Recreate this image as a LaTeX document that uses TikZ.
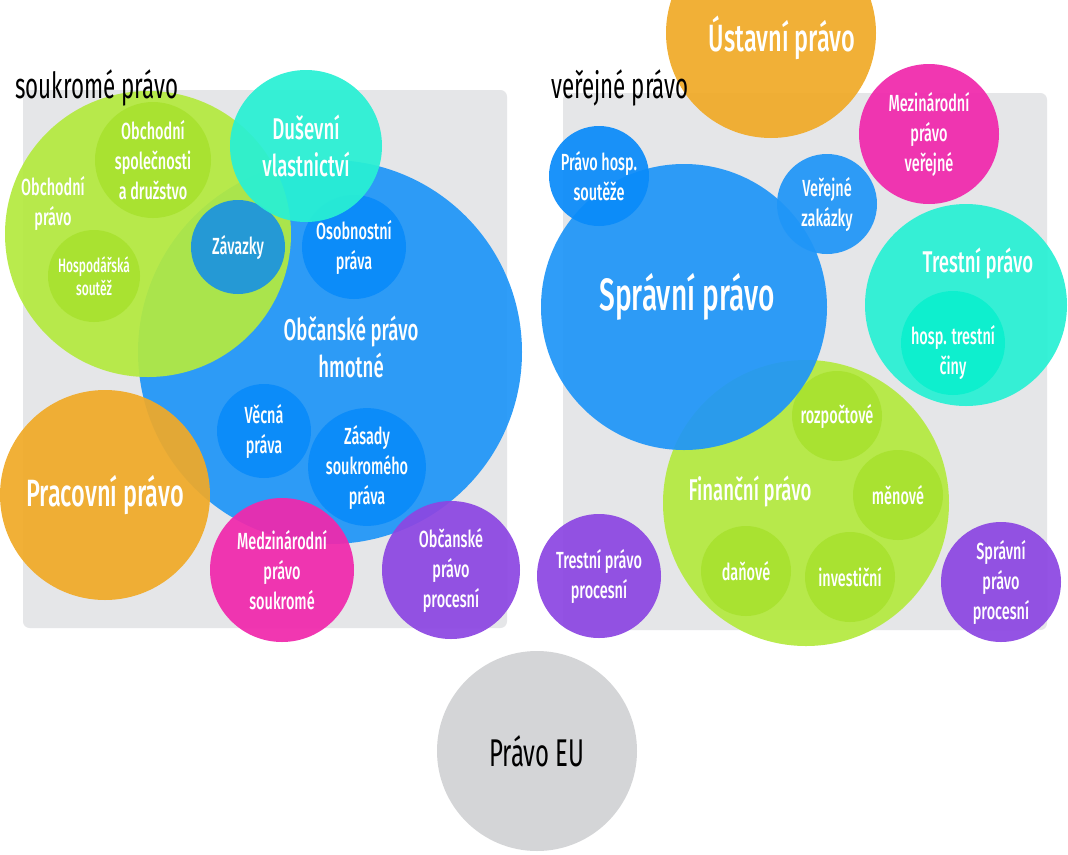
\documentclass[tikz,border=0pt]{standalone}
\usepackage{fontspec}
\setmainfont{Fira Sans}[UprightFont=* Medium, FakeStretch=0.62]
\newfontfamily\plainfont{Fira Sans}[FakeStretch=0.62]
\usetikzlibrary{positioning}
\definecolor{lime}{HTML}{B4EA40}
\definecolor{limein}{HTML}{A8E230}
\definecolor{sky}{HTML}{2096F8}
\definecolor{skyin}{HTML}{0A8BFA}
\definecolor{skymid}{HTML}{1B94E0}
\definecolor{teal}{HTML}{28F0D4}
\definecolor{tealin}{HTML}{0CF0CE}
\definecolor{amber}{HTML}{F0AA28}
\definecolor{pink}{HTML}{F028AC}
\definecolor{violet}{HTML}{8C46E2}
\definecolor{eu}{HTML}{D1D2D4}
\definecolor{panel}{HTML}{E5E6E8}
\tikzset{
  bub/.style={circle, draw=none, minimum size=#1*1.5pt, inner sep=0pt, align=center, text=white, fill opacity=0.93, text opacity=1},
  fXL/.style={font=\fontsize{34}{38}\selectfont},
  fL/.style={font=\fontsize{28.5}{31}\selectfont},
  fM/.style={font=\fontsize{22.5}{28}\selectfont},
  fS/.style={font=\fontsize{17.5}{22.5}\selectfont},
  fXS/.style={font=\fontsize{14.5}{17.5}\selectfont},
  txt/.style={align=center, text=white, inner sep=0pt},
  ttl/.style={anchor=west, inner sep=0pt, font=\plainfont\fontsize{27}{30}\selectfont},
}
\begin{document}
\begin{tikzpicture}[x=0.75pt, y=-0.75pt]
\clip (0,0) rectangle (1068,854);
\fill[white] (0,0) rectangle (1068,854);
% panels
\fill[panel, rounded corners=5pt] (23,90) rectangle (507,628);
\fill[panel, rounded corners=5pt] (563,93) rectangle (1047,630);

% soukrome pravo
\node[bub=192, fill=sky] (obcH) at (330,352) {};
\node[txt, fM] (obcHt) at (351,347) {Občanské právo\\hmotné};
\node[bub=52, fill=skyin, fS] (osob) at (354,247) {Osobnostní\\práva};
\node[bub=47, fill=skyin, fS] (vecna) at (264,431) {Věcná\\práva};
\node[bub=55, fill=skyin, fS] (zasady) at (367,467) {Zásady\\soukromého\\práva};
\node[bub=143, fill=lime] (obchP) at (148,234) {};
\node[txt, fS] (obchPt) at (53,203) {Obchodní\\právo};
\node[bub=58, fill=limein, fS] (spol) at (153,160) {Obchodní\\společnosti\\a družstvo};
\node[bub=46, fill=limein, fXS] (hosp) at (94,276) {Hospodářská\\soutěž};
\node[bub=47, fill=skymid, fS] (zav) at (238,247) {Závazky};
\node[bub=76, fill=teal, fM] (dus) at (306,146) {Duševní\\vlastnictví};
\node[bub=105, fill=amber, fL] (prac) at (105,495) {Pracovní právo};
\node[bub=72, fill=pink, fS] (medz) at (282,570) {Medzinárodní\\právo\\soukromé};
\node[bub=69, fill=violet, fS] (obcP) at (451,570) {Občanské\\právo\\procesní};

% verejne pravo
\node[bub=143, fill=lime] (fin) at (806,503) {};
\node[txt, fM] (fint) at (750,491) {Finanční právo};
\node[bub=45, fill=limein, fS] (rozp) at (837,416) {rozpočtové};
\node[bub=45, fill=limein, fS] (men) at (898,495) {měnové};
\node[bub=45, fill=limein, fS] (dan) at (746,571) {daňové};
\node[bub=45, fill=limein, fS] (inv) at (850,577) {investiční};
\node[bub=143, fill=sky] (spr) at (684,307) {};
\node[txt, fXL] (sprt) at (687,297) {Správní právo};
\node[bub=50, fill=skyin, fS] (souteze) at (599,176) {Právo hosp.\\soutěže};
\node[bub=50, fill=sky, fS] (zak) at (827,204) {Veřejné\\zakázky};
\node[bub=105, fill=amber] (ust) at (771,33) {};
\node[txt, fL] (ustt) at (782,38) {Ústavní právo};
\node[bub=70, fill=pink, fS] (mezi) at (929,134) {Mezinárodní\\právo\\veřejné};
\node[bub=101, fill=teal] (tres) at (966,305) {};
\node[txt, fM] (trest) at (978,263) {Trestní právo};
\node[bub=52, fill=tealin, fS] (htc) at (953,343) {};
\node[txt, fS] (htct) at (953,352) {hosp. trestní\\činy};
\node[bub=62, fill=violet, fS] (tresP) at (599,576) {Trestní právo\\procesní};
\node[bub=60, fill=violet, fS] (sprP) at (1001,582) {Správní\\právo\\procesní};

\node[bub=100, fill=eu, text=black, font=\plainfont\fontsize{29}{31}\selectfont] (eupr) at (537,751) {Právo EU};

% titles on top
\node[ttl] (soukr) at (15,88) {soukromé právo};
\node[ttl] (verej) at (551,88) {veřejné právo};
\end{tikzpicture}
\end{document}
